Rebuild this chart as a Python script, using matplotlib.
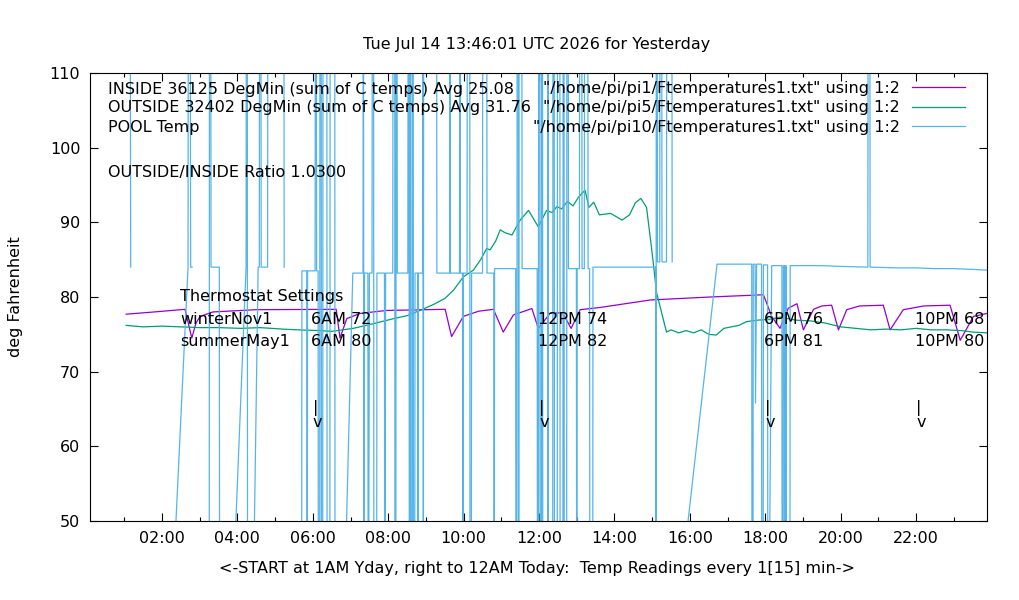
import numpy as np
import matplotlib
matplotlib.use("Agg")
import matplotlib.pyplot as plt

# time of day in hours, temps in deg F
inside_h = [1.05, 1.8, 2.61, 2.79, 2.9, 3.01, 3.35, 4.5, 6.62, 6.72, 6.9, 7.25, 7.96,
            9.51, 9.68, 9.99, 10.4, 10.79, 11.05, 11.32, 11.81, 11.98, 12.29, 12.62,
            12.85, 13.09, 13.62, 14.95, 16.54, 17.95, 18.17, 18.39, 18.61, 18.84,
            19.01, 19.28, 19.5, 19.76, 19.94, 20.16, 20.5, 21.13, 21.31, 21.66,
            22.2, 22.9, 23.17, 23.52, 23.88]
inside_t = [77.7, 78.0, 78.35, 74.5, 76.5, 77.4, 78.0, 78.3, 78.35, 74.5, 77.1, 77.8, 78.2,
            78.35, 74.7, 77.4, 78.1, 78.35, 75.3, 77.6, 78.45, 75.8, 77.8, 77.9,
            75.8, 78.3, 78.6, 79.6, 80.0, 80.3, 77.4, 75.8, 78.5, 79.1,
            75.6, 78.35, 78.8, 78.9, 75.6, 78.3, 78.8, 78.9, 75.6, 78.3,
            78.8, 78.9, 74.2, 77.4, 77.8]

outside_h = [1.05, 1.5, 2.0, 2.5, 3.0, 3.5, 4.1, 4.6, 5.2, 5.6, 6.2, 6.5, 7.07, 7.5,
             8.14, 8.5, 8.84, 9.2, 9.5, 9.73, 9.99, 10.26, 10.45, 10.61, 10.7, 10.85,
             10.97, 11.1, 11.28, 11.5, 11.72, 11.85, 11.98, 12.2, 12.35, 12.47, 12.6,
             12.75, 12.9, 13.05, 13.22, 13.32, 13.45, 13.6, 13.9, 14.2, 14.4, 14.55,
             14.7, 14.85, 14.98, 15.12, 15.38, 15.5, 15.7, 15.9, 16.1, 16.3, 16.5,
             16.7, 16.9, 17.1, 17.3, 17.5, 17.8, 18.1, 18.4, 18.8, 19.2, 19.6, 20.0,
             20.4, 20.8, 21.2, 21.6, 22.0, 22.4, 22.8, 23.2, 23.5, 23.88]
outside_t = [76.2, 76.0, 76.1, 76.0, 75.9, 75.9, 75.8, 75.9, 75.7, 75.6, 75.5, 75.4, 75.8, 76.3,
             77.1, 77.5, 78.2, 79.0, 79.8, 80.9, 82.7, 83.6, 85.0, 86.5, 86.3, 87.5,
             89.0, 88.6, 88.3, 90.3, 91.6, 90.5, 89.4, 91.6, 91.3, 92.1, 91.8,
             92.8, 92.2, 93.4, 94.3, 92.0, 92.7, 91.0, 91.2, 90.3, 91.0, 92.6,
             93.2, 92.0, 86.7, 80.5, 75.3, 75.6, 75.2, 75.5, 75.2, 75.6, 75.0,
             74.9, 75.8, 76.0, 76.2, 76.7, 76.9, 77.0, 77.3, 76.9, 76.8, 76.5, 76.0,
             75.8, 75.6, 75.7, 75.6, 75.8, 75.6, 75.6, 75.5, 75.3, 75.2]

# pool sensor glitches a lot: 140 / 15 are the bad readings, nan = missing
nan = np.nan
pool = [(1.15, 140), (1.17, 84.0), (1.18, nan),
        (2.04, 15), (2.69, 84.0), (2.70, 140), (2.74, 140), (2.76, 84.0), (2.80, 84.0), (2.81, nan),
        (3.25, 15), (3.26, 140), (3.29, 140), (3.30, 84.0), (3.52, 84.0), (3.53, 15), (3.54, nan),
        (3.68, 15), (4.23, 84.0), (4.24, 140), (4.26, 140), (4.27, 15), (4.35, 15), (4.55, 84.0),
        (4.58, 84.0), (4.59, 140), (4.62, 140), (4.63, 84.0), (4.80, 84.0), (4.81, 140), (4.82, nan),
        (5.23, 140), (5.24, 84.0), (5.25, nan),
        (5.70, 15), (5.71, 83.5), (5.84, 83.5), (5.85, 15), (5.86, 83.5), (6.06, 83.5), (6.07, 140),
        (6.09, 140), (6.10, 83.5), (6.14, 83.5), (6.15, 15), (6.18, 15), (6.19, 140), (6.22, 140),
        (6.23, 15), (6.26, 15), (6.27, 140), (6.37, 140), (6.38, 15), (6.45, 15), (6.46, 140),
        (6.58, 140), (6.59, 15), (6.72, 15), (7.06, 83.2),
        (7.33, 83.2), (7.34, 140), (7.36, 15), (7.37, 83.2), (7.46, 83.2), (7.47, 15), (7.50, 83.2),
        (7.57, 83.2), (7.58, 140), (7.61, 140), (7.62, 15), (7.69, 15), (7.70, 83.2), (7.90, 83.2),
        (7.91, 15), (7.93, 83.2), (8.12, 83.2), (8.13, 140), (8.17, 140), (8.18, 15), (8.20, 15),
        (8.21, 140), (8.23, 140), (8.24, 83.2), (8.52, 83.2), (8.53, 140), (8.55, 140), (8.56, 15),
        (8.58, 15), (8.59, 140), (8.60, 15), (8.63, 15), (8.64, 140), (8.66, 140), (8.67, 15),
        (8.70, 15), (8.71, 83.2), (8.78, 83.2), (8.79, 15), (8.80, 83.2), (8.91, 83.2), (8.92, 140),
        (8.93, 15), (8.94, 140), (9.28, 140), (9.29, 83.2), (9.63, 83.2), (9.64, 140), (9.65, 83.2),
        (9.89, 83.2), (9.90, 140), (9.91, 83.2), (9.97, 83.2), (9.98, 15), (9.99, 83.2),
        (10.09, 83.2), (10.10, 140), (10.16, 140), (10.17, 15), (10.20, 15), (10.21, 83.2),
        (10.50, 83.2), (10.51, 140), (10.61, 140), (10.62, 83.2), (10.80, 83.2), (10.81, 15),
        (10.82, 83.8), (11.38, 83.8), (11.39, 15), (11.41, 15), (11.42, 140), (11.45, 140),
        (11.46, 15), (11.47, 140), (11.54, 140), (11.55, 83.8), (11.95, 83.8), (11.96, 15),
        (11.98, 15), (11.99, 140), (12.02, 140), (12.03, 15), (12.06, 15), (12.07, 140),
        (12.09, 140), (12.10, 15), (12.23, 15), (12.24, 140), (12.25, 15), (12.36, 15),
        (12.37, 140), (12.40, 140), (12.41, 15), (12.48, 15), (12.49, 140), (12.55, 140),
        (12.56, 15), (12.63, 15), (12.64, 140), (12.66, 140), (12.67, 15), (12.73, 15),
        (12.74, 140), (12.77, 140), (12.78, 83.8), (12.99, 83.8), (13.00, 15), (13.01, 83.8),
        (13.07, 83.8), (13.08, 140), (13.13, 140), (13.14, 83.8), (13.20, 83.8), (13.21, 140),
        (13.29, 140), (13.30, 83.8), (13.34, 83.8), (13.35, 15), (13.42, 15), (13.43, 84.0),
        (15.09, 84.0), (15.10, 15), (15.11, 140), (15.13, 140), (15.14, 84.7), (15.20, 84.7),
        (15.21, 140), (15.25, 140), (15.26, 84.7), (15.38, 84.7), (15.39, 140), (15.52, 140),
        (15.53, 84.7), (15.54, nan),
        (15.17, 15), (16.72, 84.4), (17.64, 84.4), (17.65, 15), (17.67, 15), (17.68, 84.4),
        (17.73, 84.4), (17.74, 65.8), (17.77, 84.4), (17.90, 84.4), (17.91, 15), (17.94, 15),
        (17.95, 84.3), (18.06, 84.3), (18.07, 15), (18.17, 84.2), (18.44, 84.2), (18.45, 15),
        (18.47, 15), (18.48, 84.2), (18.51, 84.2), (18.52, 15), (18.55, 84.2), (18.57, 15),
        (18.65, 15), (18.66, 84.2), (19.5, 84.2), (20.0, 84.1), (20.72, 84.0), (20.73, 140),
        (20.77, 140), (20.78, 84.0), (21.5, 83.9), (22.0, 83.9), (22.5, 83.8), (23.0, 83.8),
        (23.5, 83.7), (23.88, 83.6)]
pool_h = [p[0] for p in pool]
pool_t = [p[1] for p in pool]

tick_hours = [2, 4, 6, 8, 10, 12, 14, 16, 18, 20, 22]
tick_labels = ["%02d:00" % h for h in tick_hours]

# thermostat schedule labels
sched_h = [6, 12, 18, 22]
winter = ["6AM 72", "12PM 74", "6PM 76", "10PM 68"]
summer = ["6AM 80", "12PM 82", "6PM 81", "10PM 80"]

c_in = "#9400d3"
c_out = "#009e73"
c_pool = "#56b4e9"
fs = 11.5

fig = plt.figure(figsize=(10.2, 6.0), dpi=100)
ax = fig.add_axes([90/1020, 1 - 521/600, 897/1020, 448/600])

l1, = ax.plot(inside_h, inside_t, color=c_in, lw=0.9)
l2, = ax.plot(outside_h, outside_t, color=c_out, lw=0.9)
l3, = ax.plot(pool_h, pool_t, color=c_pool, lw=0.9)

ax.set_xlim(0.09, 23.88)
ax.set_ylim(50, 110)
ax.set_xticks(tick_hours)
ax.set_xticklabels(tick_labels)
ax.set_xticks([1, 3, 5, 7, 9, 11, 13, 15, 17, 19, 21, 23], minor=True)
ax.set_yticks(range(50, 111, 10))
ax.tick_params(which="both", direction="in", top=True, right=True, labelsize=fs, width=0.8)
ax.tick_params(which="major", length=5.5, pad=7)
ax.tick_params(which="minor", length=3)
for s in ax.spines.values():
    s.set_linewidth(0.8)

fig.text(537/1020, 1 - 44/600, "Tue Jul 14 13:46:01 UTC 2026 for Yesterday",
         ha="center", va="center", fontsize=fs)
fig.text(537/1020, 1 - 568/600,
         "<-START at 1AM Yday, right to 12AM Today:  Temp Readings every 1[15] min->",
         ha="center", va="center", fontsize=fs)
fig.text(16/1020, 1 - 297/600, "deg Fahrenheit", rotation=90,
         ha="center", va="center", fontsize=fs)

# stats labels top-left
ax.text(0.020, 0.964, "INSIDE 36125 DegMin (sum of C temps) Avg 25.08",
        transform=ax.transAxes, va="center", fontsize=fs)
ax.text(0.020, 0.922, "OUTSIDE 32402 DegMin (sum of C temps) Avg 31.76",
        transform=ax.transAxes, va="center", fontsize=fs)
ax.text(0.020, 0.879, "POOL Temp", transform=ax.transAxes, va="center", fontsize=fs)
ax.text(0.020, 0.779, "OUTSIDE/INSIDE Ratio 1.0300",
        transform=ax.transAxes, va="center", fontsize=fs)

ax.text(2.48, 80, "Thermostat Settings", va="center", fontsize=fs)
ax.text(2.48, 77, "winterNov1", va="center", fontsize=fs)
ax.text(2.48, 74, "summerMay1", va="center", fontsize=fs)
for h, w, s in zip(sched_h, winter, summer):
    ax.text(h - 0.04, 77, w, va="center", fontsize=fs)
    ax.text(h - 0.04, 74, s, va="center", fontsize=fs)
    ax.text(h, 64.2, "|\nv", va="center", fontsize=fs, linespacing=0.9)

leg = ax.legend([l1, l2, l3],
                ['"/home/pi/pi1/Ftemperatures1.txt" using 1:2',
                 '"/home/pi/pi5/Ftemperatures1.txt" using 1:2',
                 '"/home/pi/pi10/Ftemperatures1.txt" using 1:2'],
                loc="upper right", bbox_to_anchor=(965/1020, 1 - 81/600),
                bbox_transform=fig.transFigure, frameon=False, markerfirst=False,
                alignment="right", fontsize=fs, handlelength=3.3, handletextpad=0.8,
                labelspacing=0.28, borderpad=0, borderaxespad=0)

fig.savefig("out.png", dpi=100)
